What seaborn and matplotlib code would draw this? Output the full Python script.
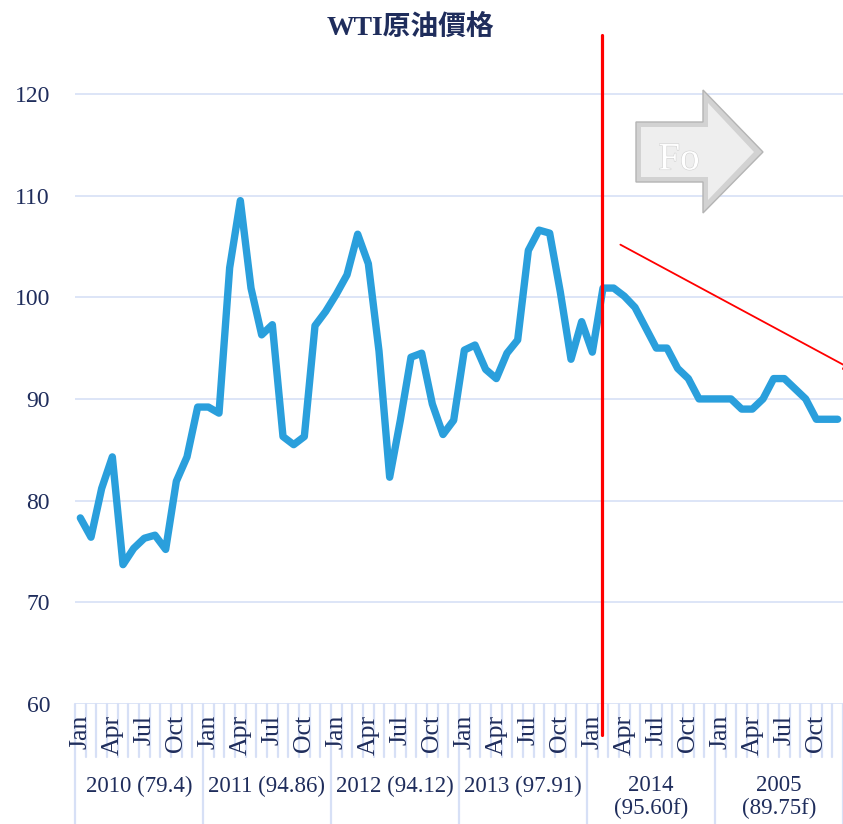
import numpy as np
import pandas as pd
import matplotlib
matplotlib.use("Agg")
import matplotlib.pyplot as plt
import matplotlib.patheffects as pe
from matplotlib.patches import Polygon
from matplotlib.transforms import blended_transform_factory
import seaborn as sns

# monthly WTI prices (2014-2015 are forecasts)
p2010 = [78.3, 76.4, 81.2, 84.3, 73.7, 75.3, 76.3, 76.6, 75.2, 81.9, 84.3, 89.2]
p2011 = [89.2, 88.6, 102.9, 109.5, 100.9, 96.3, 97.3, 86.3, 85.5, 86.3, 97.2, 98.6]
p2012 = [100.3, 102.2, 106.2, 103.3, 94.7, 82.3, 87.9, 94.1, 94.5, 89.5, 86.5, 87.9]
p2013 = [94.8, 95.3, 92.9, 92.0, 94.5, 95.8, 104.6, 106.6, 106.3, 100.5, 93.9, 97.6]
p2014 = [94.6, 100.9, 100.9, 100.1, 99.0, 97.0, 95.0, 95.0, 93.0, 92.0, 90.0, 90.0]
p2015 = [90.0, 90.0, 89.0, 89.0, 90.0, 92.0, 92.0, 91.0, 90.0, 88.0, 88.0, 88.0]

month_names = ["Jan", "", "", "Apr", "", "", "Jul", "", "", "Oct", "", ""]
year_labels = ["2010 (79.4)", "2011 (94.86)", "2012 (94.12)", "2013 (97.91)",
               "2014\n(95.60f)", "2005\n(89.75f)"]
y_ticks = [60, 70, 80, 90, 100, 110, 120]

prices = p2010 + p2011 + p2012 + p2013 + p2014 + p2015
df = pd.DataFrame({"idx": np.arange(len(prices)), "price": prices})

navy = "#1F2D5C"
grid_col = "#D7E0F6"
serif = ["Liberation Serif", "DejaVu Serif"]

sns.set_style("white")
plt.rcParams["font.family"] = serif

fig = plt.figure(figsize=(8.43, 8.24), dpi=100)
ax = fig.add_axes([75 / 843, 1 - 704 / 824, 768 / 843, 661 / 824])

for v in y_ticks:
    ax.axhline(v, color=grid_col, lw=1.2, zorder=0)

sns.lineplot(data=df, x="idx", y="price", ax=ax, color="#2A9FDC", lw=5.3,
             solid_joinstyle="round", solid_capstyle="round", zorder=3)

ax.set_xlim(-0.5, len(prices) - 0.5)
ax.set_ylim(60, 125)
ax.set_yticks(y_ticks)
ax.set_yticklabels([str(v) for v in y_ticks], fontsize=17, color=navy)
ax.tick_params(axis="y", length=0, pad=18)
ax.set_xticks([])
ax.set_xlabel("")
ax.set_ylabel("")
for s in ax.spines.values():
    s.set_visible(False)

# category axis: month boundary lines, month labels, year groups
tr = blended_transform_factory(ax.transData, ax.transAxes)
n = len(prices)
for b in range(n + 1):
    bottom = -0.182 if b % 12 == 0 else -0.080
    ax.plot([b - 0.5, b - 0.5], [0, bottom], color=grid_col, lw=1.6,
            transform=tr, clip_on=False, zorder=1)
for i in range(n):
    name = month_names[i % 12]
    if name:
        ax.text(i, -0.016, name, rotation=90, ha="center", va="top",
                fontsize=18.5, color=navy, transform=tr)
for k, lab in enumerate(year_labels):
    ax.text(k * 12 + 5.5, -0.108, lab, ha="center", va="top", fontsize=16.5,
            color=navy, transform=tr, linespacing=1.1)

# forecast divider and trend arrow
ax.plot([48.9, 48.9], [56.95, 125.8], color="red", lw=2.3, clip_on=False, zorder=4)
ax.annotate("", xy=(72.7, 92.7), xytext=(50.4, 105.3),
            arrowprops=dict(arrowstyle="-|>", color="red", lw=1.3,
                            mutation_scale=14),
            annotation_clip=False, zorder=4)

# grey "Fo" block arrow (figure pixel coords)
def px(x, y):
    return (x / 843, 1 - y / 824)

outer = [px(636, 122), px(703, 122), px(703, 90), px(763, 152),
         px(703, 213), px(703, 182), px(636, 182)]
inner = [px(641, 127), px(708, 127), px(708, 103), px(754, 152),
         px(708, 200), px(708, 177), px(641, 177)]
fig.patches.append(Polygon(outer, closed=True, transform=fig.transFigure,
                           facecolor="#d2d2d2", edgecolor="#b4b4b4", lw=1))
fig.patches.append(Polygon(inner, closed=True, transform=fig.transFigure,
                           facecolor="#eeeeee", edgecolor="none"))
fig.text(679 / 843, 1 - 160 / 824, "Fo", ha="center", va="center",
         fontsize=28, color="white",
         path_effects=[pe.withStroke(linewidth=0.8, foreground="#d0d0d0")])

fig.text(410 / 843, 1 - 28 / 824, "WTI原油價格", ha="center", va="center",
         fontsize=20, fontweight="bold", color=navy,
         family=["Liberation Serif", "Noto Sans CJK TC"])

fig.savefig("out.png", dpi=100, facecolor="white")
